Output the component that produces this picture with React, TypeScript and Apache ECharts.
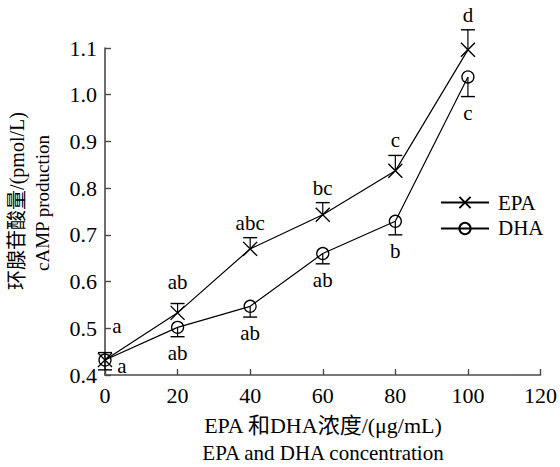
import React, { useEffect, useRef } from "react";
import * as echarts from "echarts";

const concentrations = [0, 20, 40, 60, 80, 100];
const epaMean = [0.432, 0.533, 0.67, 0.743, 0.837, 1.096];
const epaErr = [0.016, 0.02, 0.024, 0.026, 0.033, 0.043];
const dhaMean = [0.432, 0.502, 0.547, 0.66, 0.729, 1.038];
const dhaErr = [0.021, 0.02, 0.023, 0.022, 0.029, 0.042];
const epaLetters = ["a", "ab", "abc", "bc", "c", "d"];
const dhaLetters = ["a", "ab", "ab", "ab", "b", "c"];
const xTicks = [0, 20, 40, 60, 80, 100, 120];
const yTitle = ["环腺苷酸量/(pmol/L)", "cAMP production"];
const xTitle = ["EPA 和DHA浓度/(μg/mL)", "EPA and DHA concentration"];

const FONT = "'Liberation Serif', 'Times New Roman', 'Noto Sans CJK SC', serif";

export default function App() {
  const ref = useRef<HTMLDivElement>(null);
  useEffect(() => {
    if (!ref.current) return;
    const chart = echarts.init(ref.current, null, { renderer: "svg" });

    const errSeries = (name: string, means: number[], errs: number[], letters: string[], up: boolean) => ({
      type: "custom",
      name: name + "-err",
      z: 5,
      silent: true,
      data: concentrations.map((x, i) => [x, means[i], errs[i], i]),
      renderItem: (params: any, api: any) => {
        const x = api.value(0);
        const m = api.value(1);
        const e = api.value(2);
        const idx = api.value(3);
        const p0 = api.coord([x, m]);
        const p1 = api.coord([x, up ? m + e : m - e]);
        const half = 7;
        let tx = p1[0];
        let ty = up ? p1[1] - 15 : p1[1] + 16;
        if (up && idx === 1) ty = p1[1] - 22;
        if (idx === 0) {
          if (up) { tx = p1[0] + 12; ty = p1[1] - 27; }
          else { tx = p1[0] + 17; ty = p1[1] - 4; }
        }
        return {
          type: "group",
          children: [
            { type: "line", shape: { x1: p0[0], y1: p0[1], x2: p1[0], y2: p1[1] }, style: { stroke: "#000", lineWidth: 1.2 } },
            { type: "line", shape: { x1: p1[0] - half, y1: p1[1], x2: p1[0] + half, y2: p1[1] }, style: { stroke: "#000", lineWidth: 1.4 } },
            {
              type: "text",
              x: tx,
              y: ty,
              style: { text: letters[idx], fill: "#000", font: `21px ${FONT}`, align: "center", verticalAlign: "middle" },
            },
          ],
        };
      },
    });

    chart.setOption({
      animation: false,
      backgroundColor: "#fff",
      textStyle: { fontFamily: FONT, color: "#000" },
      grid: { left: 105, right: 15, top: 48, bottom: 92 },
      xAxis: {
        type: "value",
        min: 0,
        max: 120,
        interval: 20,
        axisLine: { lineStyle: { color: "#4a4a4a", width: 1.6 } },
        axisTick: { inside: true, length: 6, lineStyle: { color: "#4a4a4a", width: 1.4 } },
        axisLabel: { fontSize: 22, color: "#000", margin: 9, fontFamily: FONT, formatter: (v: number) => (xTicks.includes(v) ? String(v) : "") },
        splitLine: { show: false },
      },
      yAxis: {
        type: "value",
        min: 0.4,
        max: 1.1,
        interval: 0.1,
        axisLine: { show: true, lineStyle: { color: "#4a4a4a", width: 1.6 } },
        axisTick: { show: true, inside: true, length: 6, lineStyle: { color: "#4a4a4a", width: 1.4 } },
        axisLabel: { fontSize: 22, color: "#000", margin: 8, fontFamily: FONT, formatter: (v: number) => v.toFixed(1) },
        splitLine: { show: false },
      },
      legend: {
        orient: "vertical",
        left: 435,
        top: 187,
        itemWidth: 48,
        itemHeight: 14,
        itemGap: 5,
        textStyle: { fontSize: 21, color: "#000", fontFamily: FONT, padding: [0, 0, 0, 4] },
        data: ["EPA", "DHA"],
      },
      graphic: [
        {
          type: "text",
          x: 17,
          y: 201,
          rotation: Math.PI / 2,
          style: { text: yTitle[0], font: `20px ${FONT}`, fill: "#000", align: "center", verticalAlign: "middle" },
        },
        {
          type: "text",
          x: 42,
          y: 203,
          rotation: Math.PI / 2,
          style: { text: yTitle[1], font: `19px ${FONT}`, fill: "#000", align: "center", verticalAlign: "middle" },
        },
        {
          type: "text",
          x: 323,
          y: 425,
          style: { text: xTitle[0], font: `22px ${FONT}`, fill: "#000", align: "center", verticalAlign: "middle" },
        },
        {
          type: "text",
          x: 323,
          y: 453,
          style: { text: xTitle[1], font: `21px ${FONT}`, fill: "#000", align: "center", verticalAlign: "middle" },
        },
      ],
      series: [
        {
          name: "EPA",
          type: "line",
          data: concentrations.map((x, i) => [x, epaMean[i]]),
          symbol: "path://M0,0L10,10M10,0L0,10",
          symbolSize: 14,
          showAllSymbol: true,
          lineStyle: { color: "#000", width: 1.2 },
          itemStyle: { color: "none", borderColor: "#000", borderWidth: 1.4 },
          z: 3,
        },
        {
          name: "DHA",
          type: "line",
          data: concentrations.map((x, i) => [x, dhaMean[i]]),
          symbol: "circle",
          symbolSize: 12,
          showAllSymbol: true,
          lineStyle: { color: "#000", width: 1.2 },
          itemStyle: { color: "none", borderColor: "#000", borderWidth: 1.3 },
          z: 3,
        },
        errSeries("EPA", epaMean, epaErr, epaLetters, true),
        errSeries("DHA", dhaMean, dhaErr, dhaLetters, false),
      ],
    });
    return () => chart.dispose();
  }, []);
  return <div ref={ref} style={{ position: "absolute", left: 0, top: 0, width: 560, height: 467 }} />;
}
